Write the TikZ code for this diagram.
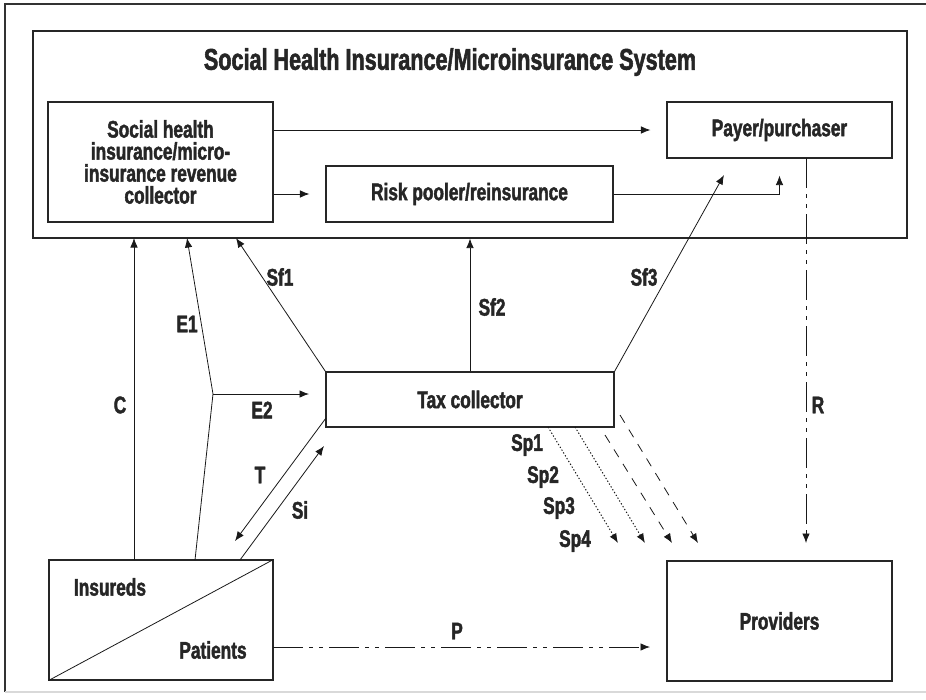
\documentclass[tikz,border=0pt]{standalone}
\usepackage{fontspec}
\newfontfamily\cf[FakeStretch=0.72, FakeBold=1.8]{Liberation Sans Bold}
\usetikzlibrary{arrows.meta}
\tikzset{
  box/.style={draw=black!85, line width=1.1pt, rectangle, inner sep=0pt, align=center},
  bfont/.style={font=\cf\fontsize{24}{22}\selectfont, text=black!85},
  lbl/.style={font=\cf\fontsize{24}{22}\selectfont, text=black!85, inner sep=0pt},
  arr/.style={draw=black!90, line width=0.8pt, -{Latex[length=9.5pt,width=7.5pt]}},
  ln/.style={draw=black!90, line width=0.8pt},
  dashdot/.style={dash pattern=on 30pt off 6pt on 4pt off 6pt on 4pt off 6pt},
  dotline/.style={line width=1pt, dash pattern=on 1.3pt off 2pt},
  dashline/.style={dash pattern=on 9pt off 8pt},
}
\begin{document}
\begin{tikzpicture}[x=1pt,y=-1pt]
\useasboundingbox (0,0) rectangle (926,699);
% outer frame
\draw[black!80, line width=1.5pt] (4,4) -- (926,4);
\draw[black!80, line width=1.5pt] (5,4) -- (5,692);
\draw[black!15, line width=1.2pt] (5,692) -- (926,692);
% nodes
\node[box, minimum width=874pt, minimum height=207pt] (sys) at (470,134.5) {};
\node[lbl, font=\cf\fontsize{30}{30}\selectfont] (title) at (450,62) {Social Health Insurance/Microinsurance System};
\node[box, bfont, minimum width=225pt, minimum height=120pt] (shi) at (160.5,162) {Social health\\insurance/micro-\\insurance revenue\\collector};
\node[box, bfont, minimum width=225pt, minimum height=56pt] (payer) at (779.5,130) {Payer/purchaser};
\node[box, bfont, minimum width=287pt, minimum height=56pt] (risk) at (469.5,194) {Risk pooler/reinsurance};
\node[box, bfont, minimum width=288pt, minimum height=55pt] (tax) at (470,399.5) {Tax collector};
\node[box, minimum width=224pt, minimum height=120pt] (ins) at (161,620) {};
\node[box, bfont, minimum width=225pt, minimum height=120pt] (prov) at (779.5,621) {Providers};
\draw[ln] (ins.south west) -- (ins.north east);
\node[lbl] (insl) at (110,587) {Insureds};
\node[lbl] (patl) at (213,650) {Patients};
% free-end coordinates
\coordinate (sf1e) at (236,238);
\coordinate (sf3e) at (724,175);
\coordinate (ce) at (134,238);
\coordinate (cs) at (134,560);
\coordinate (e1s) at (195,560);
\coordinate (junc) at (213,394);
\coordinate (e1e) at (187,238);
\coordinate (e2e) at (309,394);
\coordinate (ts) at (326,418);
\coordinate (te) at (235,541);
\coordinate (sis) at (240,560);
\coordinate (sie) at (324,446);
\coordinate (ps) at (273,647);
\coordinate (pe) at (650,647);
\coordinate (rs) at (806,158);
\coordinate (re) at (806,543);
\coordinate (sp1s) at (548,427);
\coordinate (sp1e) at (618,543);
\coordinate (sp2s) at (575,427);
\coordinate (sp2e) at (645,543);
\coordinate (sp3s) at (605,435);
\coordinate (sp3e) at (672,543);
\coordinate (sp4s) at (620,415);
\coordinate (sp4e) at (698,543);
% connectors inside system
\draw[arr, shorten >=16pt] (shi.east |- payer.west) -- (payer.west);
\draw[arr, shorten >=16pt] (shi.east |- risk.west) -- (risk.west);
\draw[arr, shorten >=17pt] (risk.east) -| (payer.south);
% tax flows
\draw[arr] (tax.north west) -- (sf1e);
\draw[arr] (tax.north) -- (sys.south);
\draw[arr] (tax.north east) -- (sf3e);
% insureds flows
\draw[arr] (cs) -- (ce);
\draw[ln] (e1s) -- (junc);
\draw[arr] (junc) -- (e1e);
\draw[arr] (junc) -- (e2e);
\draw[arr] (ts) -- (te);
\draw[arr] (sis) -- (sie);
\draw[arr, dashdot] (ps) -- (pe);
\draw[arr, dashdot] (rs) -- (re);
% subsidies to providers
\draw[arr, dotline] (sp1s) -- (sp1e);
\draw[arr, dotline] (sp2s) -- (sp2e);
\draw[arr, dashline] (sp3s) -- (sp3e);
\draw[arr, dashline] (sp4s) -- (sp4e);
% labels
\node[lbl] (lsf1) at (280,277) {Sf1};
\node[lbl] (lsf2) at (492,307) {Sf2};
\node[lbl] (lsf3) at (644,277) {Sf3};
\node[lbl] (le1) at (187,324) {E1};
\node[lbl] (le2) at (262,410) {E2};
\node[lbl] (lc) at (120,405) {C};
\node[lbl] (lt) at (260,475) {T};
\node[lbl] (lsi) at (300,510) {Si};
\node[lbl] (lr) at (818,405) {R};
\node[lbl] (lp) at (457,631) {P};
\node[lbl] (lsp1) at (527,445) {Sp1};
\node[lbl] (lsp2) at (543,477) {Sp2};
\node[lbl] (lsp3) at (559,508) {Sp3};
\node[lbl] (lsp4) at (575,541) {Sp4};
\end{tikzpicture}
\end{document}
